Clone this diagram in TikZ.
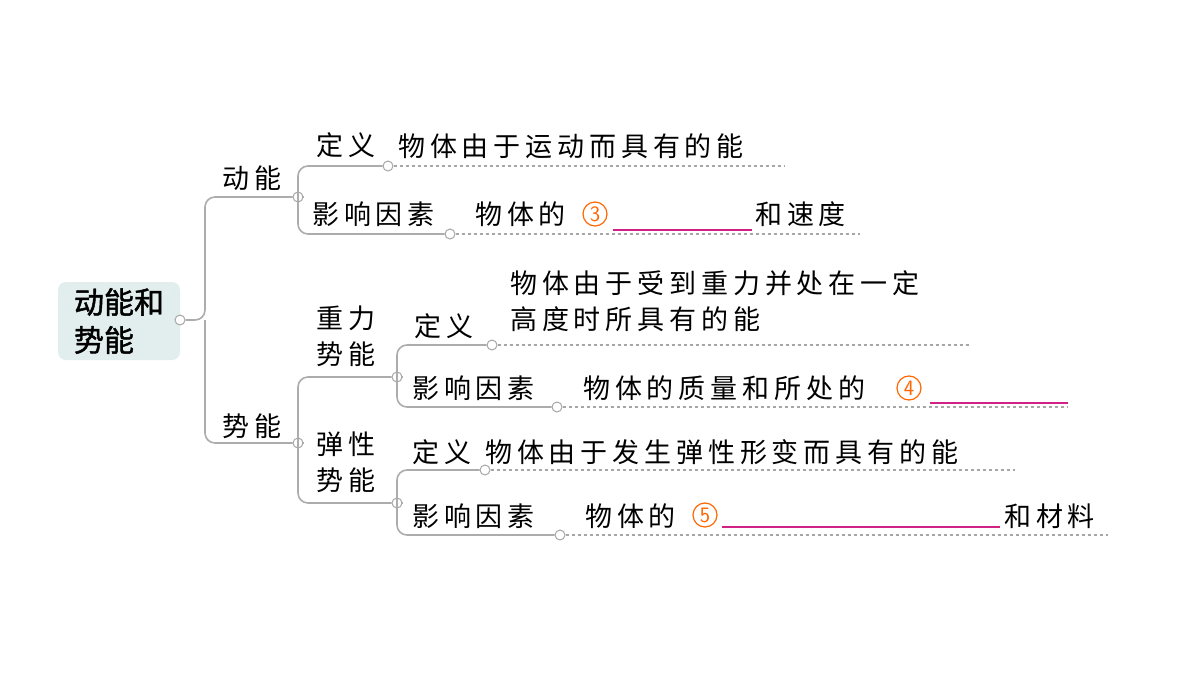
\documentclass[tikz,border=0pt]{standalone}
\usepackage{fontspec}
\newfontfamily\cjk{Noto Sans CJK SC}[LetterSpace=18]
\newfontfamily\cjkb{Noto Sans CJK SC}[FakeBold=1.5]
\definecolor{rootbg}{HTML}{E2EEEE}
\begin{document}
\begin{tikzpicture}[x=1pt,y=-1pt,
  br/.style={draw=gray!65,line width=1.6pt,rounded corners=10pt},
  dot/.style={circle,draw=gray!70,fill=white,line width=1pt,minimum size=10pt,inner sep=0pt},
  dl/.style={draw=gray!70,dashed,line width=1.1pt},
  lab/.style={font=\cjk\fontsize{27}{36}\selectfont,inner sep=0pt,anchor=base west},
  txt/.style={font=\cjk\fontsize{27}{36}\selectfont,inner sep=0pt,anchor=base west},
  cn/.style={circle,draw=orange!80!red,text=orange!80!red,line width=1.2pt,inner sep=0pt,minimum size=24pt,font=\fontsize{22}{22}\selectfont\sffamily},
  blank/.style={draw=magenta!85!black,line width=1.4pt}]
\useasboundingbox (0,0) rectangle (1200,675);
\node[fill=rootbg,rounded corners=8pt,minimum width=122pt,minimum height=78pt,align=left,font=\cjkb\fontsize{30}{38}\selectfont] (root) at (119,321) {动能和\\势能};
\node[dot] (r) at (180,320) {};
% main branches
\node[dot] (dn) at (298,197) {};
\node[dot] (sn) at (298,443) {};
\draw[br] (r.east) -- (205,320) |- (dn.west);
\draw[br] (205,320) |- (sn.west);
\node[lab] at (222,188) {动能};
\node[lab] at (222,436) {势能};
% 动能 children
\node[dot] (d1) at (388,166) {};
\node[dot] (d2) at (450,234) {};
\draw[br] (dn.east) -- (302,197);
\draw[br] (298,197) |- (d1.west);
\draw[br] (298,197) |- (d2.west);
\node[lab] at (316,155) {定义};
\node[lab] at (312,224) {影响因素};
\coordinate (e1) at (785,166); \coordinate (e2) at (860,234);
\draw[dl] (d1.east) -- (e1);
\draw[dl] (d2.east) -- (e2);
\node[txt] at (398,156) {物体由于运动而具有的能};
\node[txt] (t2) at (475,224) {物体的};
\node[cn] (c3) at (595,214) {3};
\coordinate (b3a) at (613,230); \coordinate (b3b) at (752,230);
\draw[blank] (b3a) -- (b3b);
\node[txt] at (755,224) {和速度};
% 势能 children
\node[dot] (z) at (397,377) {};
\node[dot] (t) at (397,503) {};
\draw[br] (sn.east) -- (302,443);
\draw[br] (298,443) |- (z.west);
\draw[br] (298,443) |- (t.west);
\node[txt,align=left,anchor=north west] at (316,306) {重力\\势能};
\node[txt,align=left,anchor=north west] at (316,432) {弹性\\势能};
% 重力势能 children
\node[dot] (z1) at (492,345) {};
\node[dot] (z2) at (557,407) {};
\draw[br] (z.east) -- (401,377);
\draw[br] (397,377) |- (z1.west);
\draw[br] (397,377) |- (z2.west);
\node[lab] at (414,336) {定义};
\node[lab] at (412,398) {影响因素};
\coordinate (e3) at (970,345); \coordinate (e4) at (1068,407);
\draw[dl] (z1.east) -- (e3);
\draw[dl] (z2.east) -- (e4);
\node[txt,align=left,anchor=north west] at (510,270) {物体由于受到重力并处在一定\\高度时所具有的能};
\node[txt] (t4) at (583,398) {物体的质量和所处的};
\node[cn] (c4) at (909,388) {4};
\coordinate (b4a) at (930,403); \coordinate (b4b) at (1068,403);
\draw[blank] (b4a) -- (b4b);
% 弹性势能 children
\node[dot] (t1) at (485,470) {};
\node[dot] (t2d) at (560,535) {};
\draw[br] (t.east) -- (401,503);
\draw[br] (397,503) |- (t1.west);
\draw[br] (397,503) |- (t2d.west);
\node[lab] at (412,462) {定义};
\node[lab] at (412,526) {影响因素};
\coordinate (e5) at (1015,470); \coordinate (e6) at (1108,535);
\draw[dl] (t1.east) -- (e5);
\draw[dl] (t2d.east) -- (e6);
\node[txt] at (485,462) {物体由于发生弹性形变而具有的能};
\node[txt] (t6) at (585,526) {物体的};
\node[cn] (c5) at (705,515) {5};
\coordinate (b5a) at (722,527); \coordinate (b5b) at (1000,527);
\draw[blank] (b5a) -- (b5b);
\node[txt] at (1004,526) {和材料};
\end{tikzpicture}
\end{document}
